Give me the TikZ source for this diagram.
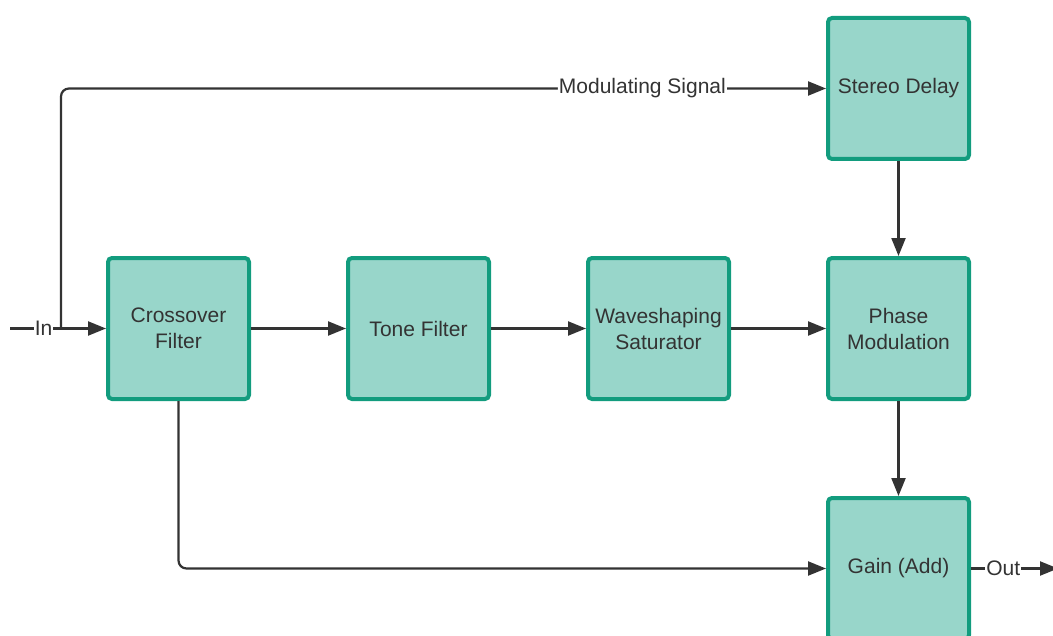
\documentclass[tikz,border=0pt]{standalone}
\usepackage{fontspec}
\setmainfont{Liberation Sans}
\usepackage{xcolor}
\usetikzlibrary{positioning,arrows.meta}
\definecolor{ink}{RGB}{51,51,51}
\definecolor{blockfill}{RGB}{152,214,202}
\definecolor{blockframe}{RGB}{18,156,126}
\tikzset{
  block/.style={draw=blockframe, fill=blockfill, rounded corners=2pt, align=center,
    minimum width=70.5pt, minimum height=70.5pt, inner sep=2pt, line width=2pt,
    font=\fontsize{10.5}{13}\selectfont, text=ink},
  sig/.style={-{Triangle[length=9pt,width=7pt]}, line width=1.1pt, draw=ink},
  tag/.style={fill=white, inner sep=0.5pt, font=\fontsize{10.5}{13}\selectfont, text=ink},
}

\begin{document}
\begin{tikzpicture}[x=0.5pt, y=-0.5pt, node distance=47.5pt and 47.5pt]
  \useasboundingbox (0,0) rectangle (1053,636);
  \node[block] (xover) at (178.5,328.5) {Crossover\\Filter};
  \node[block, right=of xover] (tone) {Tone Filter};
  \node[block, right=of tone] (shaper) {Waveshaping\\Saturator};
  \node[block, right=of shaper] (phase) {Phase\\Modulation};
  \node[block, above=of phase] (delay) {Stereo Delay};
  \node[block, below=of phase] (gain) {Gain (Add)};
  \coordinate (in) at (10,328.5);
  \coordinate (split) at (61,328.5);
  \coordinate (out) at (1058,568.5);
  \draw[sig] (in) -- node[tag, pos=0.35] {In} (xover.west);
  \draw[sig, rounded corners=4pt] (split) |- node[tag, pos=0.88] {Modulating Signal}
    (delay.west);
  \draw[sig] (xover) -- (tone); \draw[sig] (tone) -- (shaper);
  \draw[sig] (shaper) -- (phase); \draw[sig] (delay) -- (phase);
  \draw[sig] (phase) -- (gain);
  \draw[sig, rounded corners=4pt] (xover.south) |- (gain.west);
  \draw[sig] (gain.east) -- node[tag, pos=0.37] {Out} (out);
\end{tikzpicture}
\end{document}
